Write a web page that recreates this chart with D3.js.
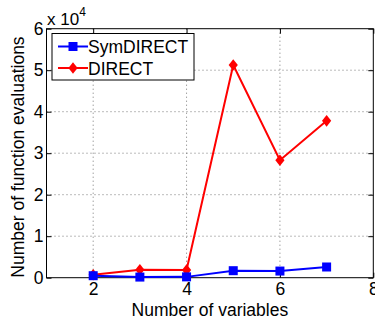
<!DOCTYPE html>
<html>
<head>
<meta charset="utf-8">
<script src="https://cdn.jsdelivr.net/npm/d3@7"></script>
<style>
  body { margin: 0; background: #fff; }
  svg text { font-family: "Liberation Sans", Arial, sans-serif; }
</style>
</head>
<body>
<svg width="375" height="320"></svg>
<script>
  const variables = [2, 3, 4, 5, 6, 7];
  const symDirect = [480, 150, 200, 1690, 1600, 2580];
  const direct = [720, 1930, 1850, 51250, 28300, 37800];
  const xTicks = [2, 4, 6, 8];
  const yTicks = [0, 1, 2, 3, 4, 5, 6];
  const seriesNames = ['SymDIRECT', 'DIRECT'];

  const svg = d3.select('svg');
  const margin = { top: 28.7, right: 1.7, bottom: 42.3, left: 46.5 };
  const width = +svg.attr('width');
  const height = +svg.attr('height');
  const innerWidth = width - margin.left - margin.right;
  const innerHeight = height - margin.top - margin.bottom;
  const fontSize = 17.5;

  const xScale = d3.scaleLinear().domain([1, 8]).range([0, innerWidth]);
  const yScale = d3.scaleLinear().domain([0, 6e4]).range([innerHeight, 0]);

  const g = svg.append('g')
    .attr('transform', `translate(${margin.left},${margin.top})`);

  // grid
  g.append('g').selectAll('line').data(xTicks.filter(d => d < 8)).enter().append('line')
    .attr('x1', d => xScale(d)).attr('x2', d => xScale(d))
    .attr('y1', 0).attr('y2', innerHeight)
    .attr('stroke', '#777').attr('stroke-width', 1).attr('stroke-dasharray', '1,3');
  g.append('g').selectAll('line').data(yTicks.filter(d => d > 0 && d < 6)).enter().append('line')
    .attr('y1', d => yScale(d * 1e4)).attr('y2', d => yScale(d * 1e4))
    .attr('x1', 0).attr('x2', innerWidth)
    .attr('stroke', '#777').attr('stroke-width', 1).attr('stroke-dasharray', '1,3');

  // axes
  const xAxis = d3.axisBottom(xScale).tickValues(xTicks).tickFormat(d3.format('d'))
    .tickSize(-5).tickPadding(5);
  const yAxis = d3.axisLeft(yScale).tickValues(yTicks.map(d => d * 1e4))
    .tickFormat(d => d / 1e4).tickSize(-5).tickPadding(3);

  const xAxisG = g.append('g').attr('transform', `translate(0,${innerHeight})`).call(xAxis);
  const yAxisG = g.append('g').call(yAxis);
  [xAxisG, yAxisG].forEach(a => {
    a.select('.domain').remove();
    a.selectAll('.tick line').attr('stroke', '#000');
    a.selectAll('text').attr('font-size', fontSize).attr('fill', '#000')
      .attr('font-family', '"Liberation Sans", Arial, sans-serif');
  });
  g.append('g').call(d3.axisTop(xScale).tickValues(xTicks).tickSize(-5).tickFormat(''))
    .call(s => s.select('.domain').remove());
  g.append('g').attr('transform', `translate(${innerWidth},0)`)
    .call(d3.axisRight(yScale).tickValues(yTicks.map(d => d * 1e4)).tickSize(-5).tickFormat(''))
    .call(s => s.select('.domain').remove());

  g.append('rect').attr('width', innerWidth).attr('height', innerHeight)
    .attr('fill', 'none').attr('stroke', '#000').attr('stroke-width', 1);

  // exponent
  const expo = svg.append('text').attr('x', margin.left + 0.5).attr('y', 24.5)
    .attr('font-size', 17).attr('fill', '#000');
  expo.append('tspan').text('x 10');
  expo.append('tspan').attr('font-size', 12).attr('dy', -9).text('4');

  // labels
  svg.append('text').attr('x', margin.left + innerWidth / 2).attr('y', 315.5)
    .attr('text-anchor', 'middle').attr('font-size', fontSize).text('Number of variables');
  svg.append('text')
    .attr('transform', `translate(24,157) rotate(-90)`)
    .attr('text-anchor', 'middle').attr('font-size', fontSize).text('Number of function evaluations');

  // series
  const line = d3.line().x((d, i) => xScale(variables[i])).y(d => yScale(d));
  const diamond = 'M0,-5.8L4.6,0L0,5.8L-4.6,0Z';

  g.append('path').datum(direct).attr('d', line)
    .attr('fill', 'none').attr('stroke', '#f00').attr('stroke-width', 2);
  g.selectAll('.dmark').data(direct).enter().append('path').attr('class', 'dmark')
    .attr('d', diamond)
    .attr('transform', (d, i) => `translate(${xScale(variables[i])},${yScale(d)})`)
    .attr('fill', '#f00');

  g.append('path').datum(symDirect).attr('d', line)
    .attr('fill', 'none').attr('stroke', '#00f').attr('stroke-width', 2);
  g.selectAll('.smark').data(symDirect).enter().append('rect').attr('class', 'smark')
    .attr('x', (d, i) => xScale(variables[i]) - 4.5).attr('y', d => yScale(d) - 4.5)
    .attr('width', 9).attr('height', 9).attr('fill', '#00f');

  // legend
  const lg = svg.append('g').attr('transform', 'translate(52,33.5)');
  lg.append('rect').attr('width', 142).attr('height', 46.5)
    .attr('fill', '#fff').attr('stroke', '#000').attr('stroke-width', 1);
  const colors = ['#00f', '#f00'];
  seriesNames.forEach((name, i) => {
    const y = 13 + i * 21.5;
    lg.append('line').attr('x1', 6).attr('x2', 36).attr('y1', y).attr('y2', y)
      .attr('stroke', colors[i]).attr('stroke-width', 2);
    if (i === 0) {
      lg.append('rect').attr('x', 16.5).attr('y', y - 4.5).attr('width', 9).attr('height', 9).attr('fill', colors[i]);
    } else {
      lg.append('path').attr('d', diamond)
        .attr('transform', `translate(21,${y})`).attr('fill', colors[i]);
    }
    lg.append('text').attr('x', 36).attr('y', y + 6.5).attr('font-size', fontSize).text(name);
  });
</script>
</body>
</html>
